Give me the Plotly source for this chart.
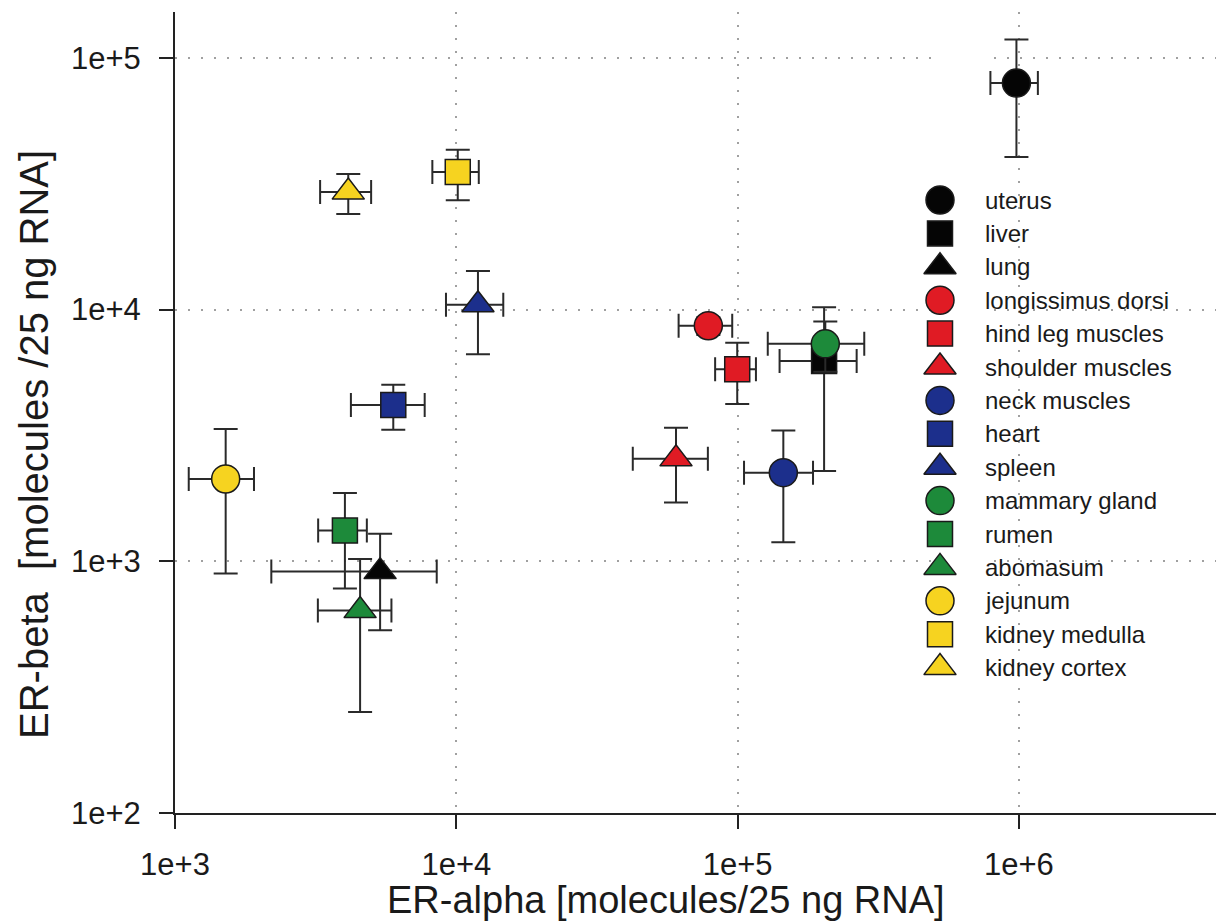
import plotly.graph_objects as go

# ---------------- data ----------------
tissues = ["uterus", "liver", "lung", "longissimus dorsi", "hind leg muscles",
           "shoulder muscles", "neck muscles", "heart", "spleen", "mammary gland",
           "rumen", "abomasum", "jejunum", "kidney medulla", "kidney cortex"]
er_alpha = [9.8e5, 2.03e5, 5360, 7.87e4, 9.97e4, 6.04e4, 1.454e5, 5970, 1.194e4,
            2.05e5, 4018, 4550, 1514, 1.012e4, 4130]
er_alpha_sd = [1.88e5, 6.2e4, 3160, 1.7e4, 1.65e4, 1.8e4, 4.0e4, 1750, 2750,
               7.7e4, 790, 1330, 395, 1900, 850]
er_beta = [7.94e4, 6250, 910, 8630, 5800, 2553, 2250, 4180, 1.045e4,
           7310, 1325, 637, 2124, 3.52e4, 2.93e4]
er_beta_sd = [3.9e4, 3965, 378, 700, 1580, 840, 1060, 850, 3800,
              1650, 545, 385, 1230, 8000, 5300]
colors = ["#050505", "#050505", "#050505",
          "#e01b24", "#e01b24", "#e01b24",
          "#1c2f8c", "#1c2f8c", "#1c2f8c",
          "#1d8a3a", "#1d8a3a", "#1d8a3a",
          "#f6d320", "#f6d320", "#f6d320"]
symbols = ["circle", "square", "triangle-up"] * 5
x_ticks = [1e3, 1e4, 1e5, 1e6]
x_ticktext = ["1e+3", "1e+4", "1e+5", "1e+6"]
y_ticks = [1e2, 1e3, 1e4, 1e5]
y_ticktext = ["1e+2", "1e+3", "1e+4", "1e+5"]

# ---------------- styling ----------------
W, H = 1216, 921
ML, MR, MT, MB = 175, 0, 12, 108
FONT = "Liberation Sans, Arial, Helvetica, sans-serif"
sizes = {"circle": 28, "square": 25, "triangle-up": 28}
ERR = dict(type="data", symmetric=True, color="#2a2a2a", thickness=2, width=12)

fig = go.Figure()
for i, name in enumerate(tissues):
    fig.add_trace(go.Scatter(
        x=[er_alpha[i]], y=[er_beta[i]], mode="markers", name=name,
        showlegend=False,
        marker=dict(symbol=symbols[i], size=sizes[symbols[i]], color=colors[i],
                    line=dict(color="#1a1a1a", width=1.5)),
        error_x=dict(array=[er_alpha_sd[i]], **ERR),
        error_y=dict(array=[er_beta_sd[i]], **ERR),
        cliponaxis=False,
    ))

# ---------------- custom legend (own invisible axes) ----------------
plot_w = W - ML - MR
plot_h = H - MT - MB
leg_marker_px, leg_text_px = 940, 983
leg_top_px, leg_step_px = 200, 33.4
d0 = (leg_marker_px - ML) / plot_w
d1 = (leg_text_px - ML) / plot_w
span = plot_h / leg_step_px
y_top = -(leg_top_px - MT) / leg_step_px
for i, name in enumerate(tissues):
    fig.add_trace(go.Scatter(
        x=[0], y=[i], xaxis="x2", yaxis="y2", mode="markers", showlegend=False,
        hoverinfo="skip", cliponaxis=False,
        marker=dict(symbol=symbols[i], size=sizes[symbols[i]], color=colors[i],
                    line=dict(color="#1a1a1a", width=1.5)),
    ))
    fig.add_annotation(x=1, y=i, xref="x2", yref="y2", text=name, showarrow=False,
                       xanchor="left", yanchor="middle",
                       font=dict(family=FONT, size=24, color="#1a1a1a"))

axis_common = dict(
    type="log", showline=True, linewidth=2, linecolor="#222222",
    ticks="outside", ticklen=14, tickwidth=2, tickcolor="#222222",
    showgrid=True, gridcolor="#a0a0a0", gridwidth=2, griddash="2px,11px",
    zeroline=False, tickfont=dict(family=FONT, size=31, color="#1a1a1a"),
)
fig.update_layout(
    width=W, height=H,
    margin=dict(l=ML, r=MR, t=MT, b=MB),
    paper_bgcolor="white", plot_bgcolor="white",
    showlegend=False,
    xaxis=dict(range=[3, 3 + plot_w / 281.3], tickvals=x_ticks, ticktext=x_ticktext,
               ticklabelstandoff=9, **axis_common),
    yaxis=dict(range=[2, 2 + plot_h / 251.7], tickvals=y_ticks, ticktext=y_ticktext,
               ticklabelstandoff=12, **axis_common),
    xaxis2=dict(domain=[d0, d1], range=[0, 1], visible=False, anchor="y2"),
    yaxis2=dict(domain=[0, 1], range=[y_top + span, y_top], visible=False,
                anchor="x2"),
)

fig.add_annotation(x=(666 - ML) / plot_w, y=-(900 - (H - MB)) / plot_h,
                   xref="paper", yref="paper", text="ER-alpha [molecules/25 ng RNA]",
                   showarrow=False, xanchor="center", yanchor="middle",
                   font=dict(family=FONT, size=38, color="#1a1a1a"))
fig.add_annotation(x=(34 - ML) / plot_w, y=((H - MB) - 445) / plot_h,
                   xref="paper", yref="paper", text="ER-beta  [molecules /25 ng RNA]",
                   textangle=-90, showarrow=False, xanchor="center", yanchor="middle",
                   font=dict(family=FONT, size=40, color="#1a1a1a"))

fig.write_html("out.html", config={"displayModeBar": False},
               post_script="document.body.style.margin='0';document.body.style.overflow='hidden';")
